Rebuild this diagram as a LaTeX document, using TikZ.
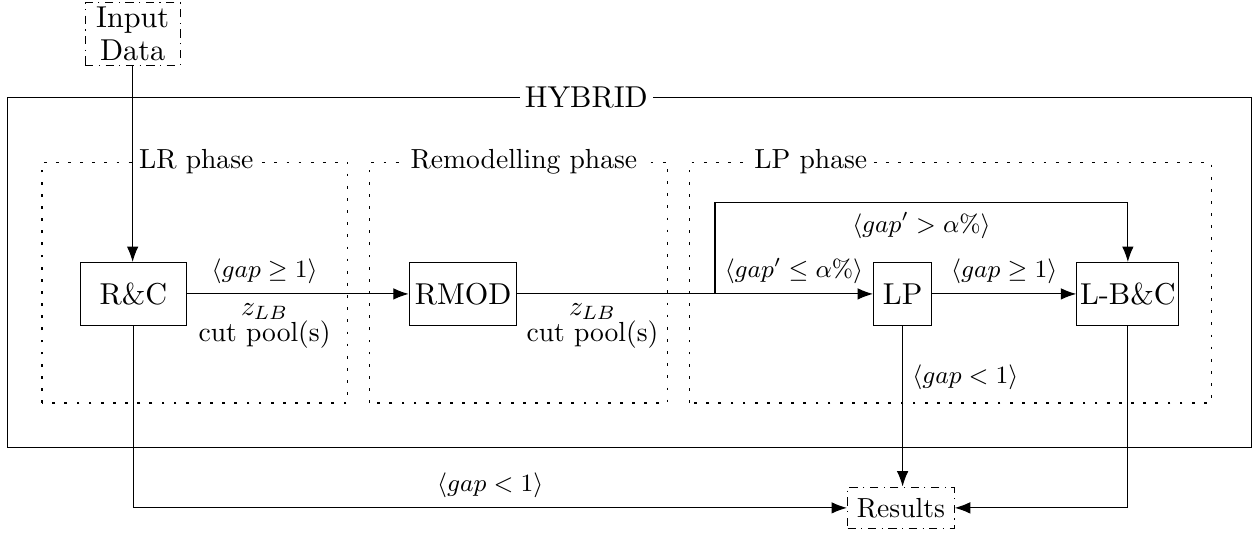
\documentclass[tikz,border=0pt]{standalone}
\usetikzlibrary{arrows.meta}

\begin{document}
\begin{tikzpicture}[
  block/.style={draw, minimum height=0.8cm, inner xsep=1pt, font=\fontsize{10.95}{12}\selectfont},
  ends/.style={draw, dash dot, align=center},
  phase/.style={dash pattern=on 1pt off 3.4pt},
  phasename/.style={fill=white, inner sep=1.2pt, font=\fontsize{10}{12}\selectfont},
  cond/.style={font=\small},
  pool/.style={below, align=center, font=\fontsize{10}{9.5}\selectfont},
  flow/.style={-{Latex[length=5.6pt,width=4.2pt]}}]
\useasboundingbox (0,0) rectangle (15.99,6.815);
% outer frame and phases
\draw (0.10,1.108) rectangle (15.95,5.567);
\node[phasename, inner sep=1.8pt, font=\fontsize{10.95}{12}\selectfont] (hybrid) at (7.47,5.567) {HYBRID};
\draw[phase] (0.535,1.68) rectangle (4.43,4.75);
\draw[phase] (4.71,1.68) rectangle (8.51,4.75);
\draw[phase] (8.79,1.68) rectangle (15.43,4.75);
\node[phasename] (lrname) at (2.50,4.75) {LR phase};
\node[phasename] (remname) at (6.675,4.75) {Remodelling phase};
\node[phasename] (lpname) at (10.33,4.75) {LP phase};
% blocks
\node[ends, inner xsep=4pt, inner ysep=1.5pt, minimum width=1.2cm, font=\fontsize{10.95}{12}\selectfont] (input) at (1.69,6.382) {Input\\Data};
\node[block, minimum width=1.35cm] (rc) at (1.70,3.07) {R\&C};
\node[block, minimum width=1.37cm] (rmod) at (5.90,3.07) {RMOD};
\node[block, minimum width=0.74cm] (lp) at (11.50,3.07) {LP};
\node[block, minimum width=1.30cm] (lbc) at (14.37,3.07) {L-B\&C};
\node[ends, minimum width=1.36cm, minimum height=0.53cm] (results) at (11.478,0.344) {Results};
\coordinate (branch) at (9.11,3.07);
\coordinate (top) at (9.11,4.23);
% connections
\draw[flow] (input) -- (input |- rc.north);
\draw[flow] (rc) -- (rmod) node[cond, pos=0.35, above]{$\langle gap \geq 1\rangle$} node[pool, pos=0.35]{$z_{LB}$\\cut pool(s)};
\draw (rmod) -- (branch) node[pool, pos=0.38]{$z_{LB}$\\cut pool(s)};
\draw[flow] (branch) -- (lp);
\node[cond, above right] (lowgap) at (branch) {$\langle gap' \leq \alpha\%\rangle$};
\draw[flow] (branch) -- (top) -| (lbc) node[cond, pos=0.25, below]{$\langle gap' > \alpha\%\rangle$};
\draw[flow] (lp) -- (lbc) node[cond, midway, above]{$\langle gap \geq 1\rangle$};
\draw[flow] (lp) -- (lp |- results.north) node[cond, pos=0.32, right]{$\langle gap < 1\rangle$};
\draw[flow] (rc) |- (results) node[cond, pos=0.75, above]{$\langle gap < 1\rangle$};
\draw[flow] (lbc) |- (results);
\end{tikzpicture}
\end{document}
